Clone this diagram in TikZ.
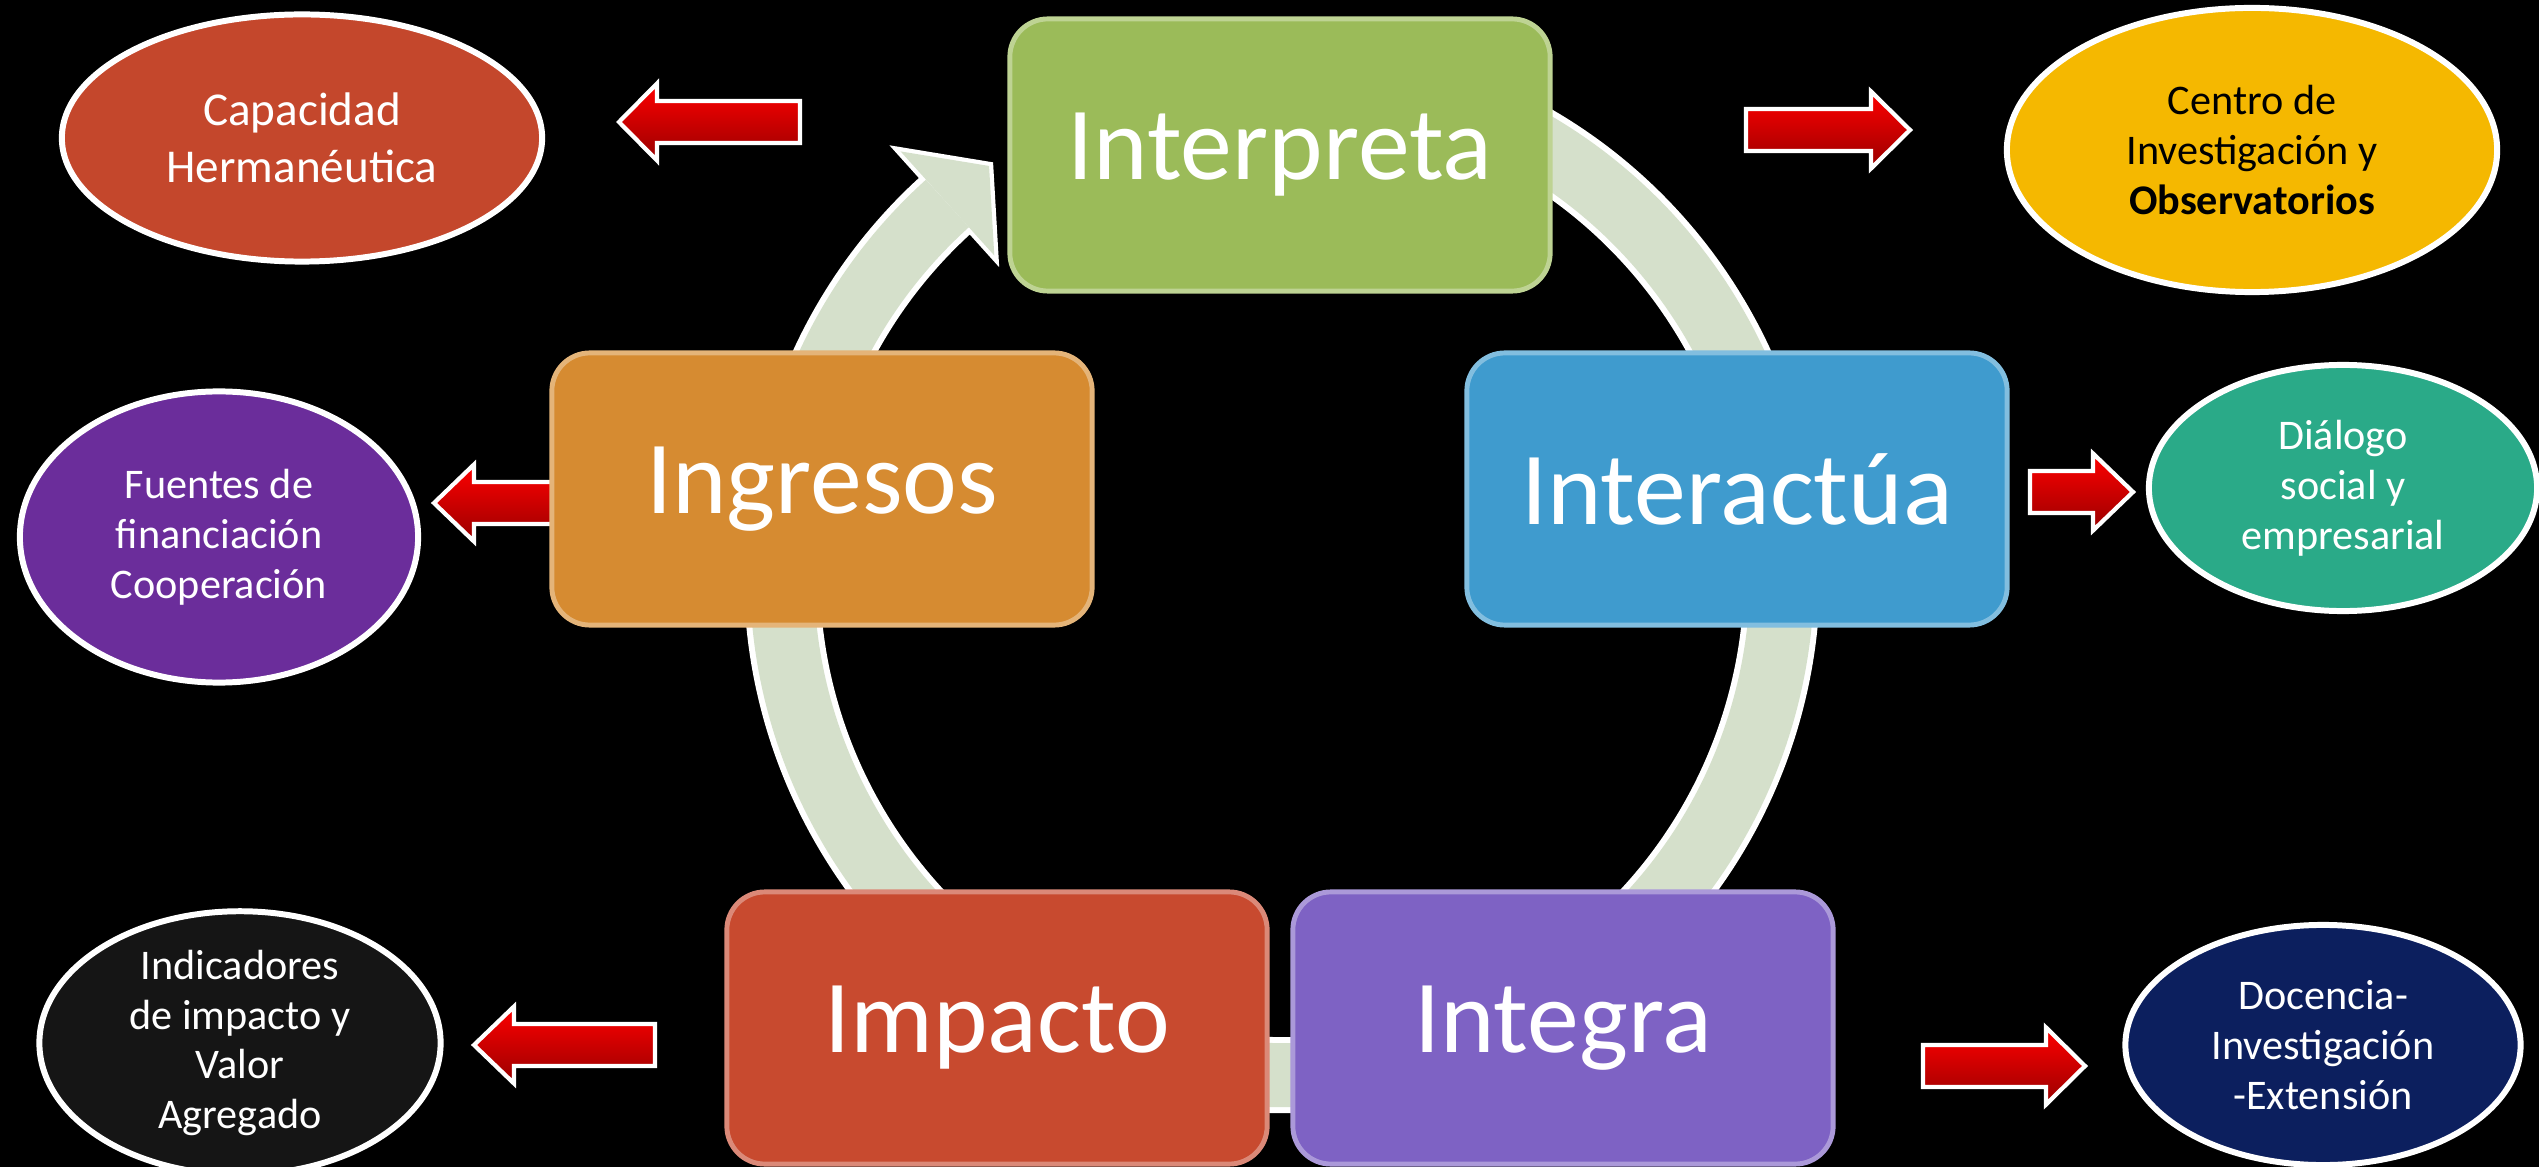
\documentclass[tikz,border=0pt]{standalone}
\usepackage{fontspec}
\setmainfont{Carlito}
\usetikzlibrary{shapes.geometric,calc}
\definecolor{ringc}{HTML}{D5E0CB}
\definecolor{boxgreen}{HTML}{9BBB59}
\definecolor{boxorange}{HTML}{D68B31}
\definecolor{boxblue}{HTML}{3F9BCE}
\definecolor{boxred}{HTML}{C84A2F}
\definecolor{boxpurple}{HTML}{7E62C4}
\definecolor{ellred}{HTML}{C4472C}
\definecolor{ellpurple}{HTML}{6B2D9B}
\definecolor{ellblack}{HTML}{151515}
\definecolor{ellgold}{HTML}{F5B800}
\definecolor{ellteal}{HTML}{2AAA88}
\definecolor{ellnavy}{HTML}{0C1F5E}
\newcommand{\redarrow}[4]{% tail, base, tip, y
  \draw[arrowred] (#1,-#4+21) -- (#2,-#4+21) -- (#2,-#4+38.5) -- (#3,-#4)
    -- (#2,-#4-38.5) -- (#2,-#4-21) -- (#1,-#4-21) -- cycle;}
\begin{document}
\begin{tikzpicture}[x=0.01cm,y=0.01cm,
  box/.style={rectangle, rounded corners=0.38cm, minimum width=5.4cm,
    minimum height=2.72cm, inner sep=0pt, text=white,
    font=\fontsize{29.5}{35}\selectfont, fill=#1, draw=#1!65!white, line width=1.4pt},
  bubble/.style={ellipse, draw=white, line width=1.7pt, inner sep=0pt,
    align=center, text=white, fill=#1, font=\fontsize{12}{14.2}\selectfont},
  arrowred/.style={draw=white, line width=1.2pt, line join=miter,
    top color=red, middle color=red, bottom color=red!60!black}]
\useasboundingbox (0,0) rectangle (2539,-1167);
\fill[black] (0,0) rectangle (2539,-1167);

% cycle ring
\coordinate (rc) at (1282,-575);
\coordinate (hb) at ($(rc)+(132:500)$);
\coordinate (ho) at ($(rc)+(132:570)$);
\coordinate (hi) at ($(rc)+(132:430)$);
\coordinate (ht) at ($(hb)+(42:56)$);
\draw[white, line width=0.76cm] ($(rc)+(75:500)$) arc[start angle=75, end angle=-228, radius=500];
\filldraw[white, line width=2.4pt, line join=miter] (ho) -- (ht) -- (hi) -- cycle;
\draw[ringc, line width=0.64cm] ($(rc)+(75:500)$) arc[start angle=75, end angle=-228, radius=500];
\fill[ringc] (ho) -- (ht) -- (hi) -- cycle;

% red block arrows
\redarrow{800}{657}{619}{122}
\redarrow{1746}{1871}{1910}{130}
\redarrow{561}{474}{434}{503}
\redarrow{2030}{2093}{2133}{492}
\redarrow{655}{514}{474}{1045}
\redarrow{1923}{2046}{2085}{1066}

% ellipses
\node[bubble=ellred, minimum width=4.8cm, minimum height=2.47cm,
  font=\fontsize{13.4}{16.2}\selectfont] (cap) at (302,-138) {Capacidad\\Hermanéutica};
\node[bubble=ellgold, text=black, minimum width=4.9cm, minimum height=2.84cm] (cen) at (2252,-150)
  {Centro de\\Investigación y\\\textbf{Observatorios}};
\node[bubble=ellpurple, minimum width=3.98cm, minimum height=2.91cm] (fue) at (219,-537)
  {Fuentes de\\financiación\\Cooperación};
\node[bubble=ellteal, minimum width=3.88cm, minimum height=2.46cm] (dia) at (2343,-488)
  {Diálogo\\social y\\empresarial};
\node[bubble=ellblack, minimum width=4.01cm, minimum height=2.43cm] (ind) at (240,-1043)
  {Indicadores\\de impacto y\\Valor\\Agregado};
\node[bubble=ellnavy, minimum width=3.95cm, minimum height=2.4cm] (doc) at (2323,-1045)
  {Docencia-\\Investigación\\-Extensión};

% boxes
\node[box=boxgreen] (int) at (1280,-155) {Interpreta};
\node[box=boxorange] (ing) at (822,-489) {Ingresos};
\node[box=boxblue] (inter) at (1737,-489) {Interactúa};
\node[box=boxred] (imp) at (997,-1028) {Impacto};
\node[box=boxpurple] (integ) at (1563,-1028) {Integra};
\end{tikzpicture}
\end{document}
